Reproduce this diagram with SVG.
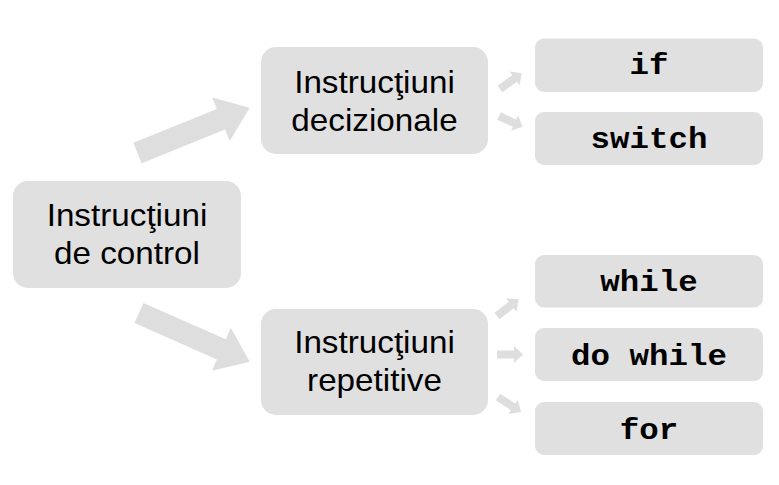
<svg xmlns="http://www.w3.org/2000/svg" width="779" height="485" viewBox="0 0 779 485">
<style>
.box{fill:#E0E0E0}
.arr{fill:#DEDEDE}
.sans{font-family:"Liberation Sans",Arial,sans-serif;font-size:30.5px;fill:#000;text-anchor:middle}
.mono{font-family:"Liberation Mono","Courier New",monospace;font-size:29px;font-weight:bold;fill:#000;text-anchor:middle}
</style>
<defs>
<polygon id="big" points="0,-11 90,-11 90,-23.5 121,0 90,23.5 90,11 0,11"/>
</defs>
<rect width="779" height="485" fill="#FFFFFF"/>
<g id="connectors">
<use href="#big" class="arr" transform="translate(137.5,153) rotate(-22)"/>
<use href="#big" class="arr" transform="translate(139,313) rotate(23.8)"/>
<polygon class="arr" points="0,-4 18,-4 18,-8.5 27,0 18,8.5 18,4 0,4" transform="translate(500,89) rotate(-36)"/>
<polygon class="arr" points="0,-4 17,-4 17,-8.5 26,0 17,8.5 17,4 0,4" transform="translate(499,116) rotate(24.6)"/>
<polygon class="arr" points="0,-4 18,-4 18,-8.5 27.5,0 18,8.5 18,4 0,4" transform="translate(497,316) rotate(-37.7)"/>
<polygon class="arr" points="0,-4 17,-4 17,-8.5 26,0 17,8.5 17,4 0,4" transform="translate(497,354.5)"/>
<polygon class="arr" points="0,-4 18,-4 18,-8.5 27.5,0 18,8.5 18,4 0,4" transform="translate(498,397) rotate(33)"/>
</g>
<g id="control">
<rect class="box" x="13" y="181" width="228" height="107" rx="15"/>
<g transform="translate(127,0) scale(1.09,1)">
<text class="sans" x="0" y="226">Instrucţiuni</text>
<text class="sans" x="0" y="264">de control</text>
</g>
</g>
<g id="decizionale">
<rect class="box" x="261" y="47" width="227" height="107" rx="15"/>
<g transform="translate(374.5,0) scale(1.09,1)">
<text class="sans" x="0" y="93">Instrucţiuni</text>
<text class="sans" x="0" y="131.5">decizionale</text>
</g>
</g>
<g id="repetitive">
<rect class="box" x="261" y="309" width="227" height="106" rx="15"/>
<g transform="translate(374.5,0) scale(1.09,1)">
<text class="sans" x="0" y="353.5">Instrucţiuni</text>
<text class="sans" x="0" y="391.5">repetitive</text>
</g>
</g>
<g id="if">
<rect class="box" x="535" y="38.5" width="228" height="53.5" rx="9"/>
<text class="mono" transform="translate(649,74) scale(1.12,1)" x="0" y="0">if</text>
</g>
<g id="switch">
<rect class="box" x="535" y="112" width="228" height="53" rx="9"/>
<text class="mono" transform="translate(649,147.5) scale(1.12,1)" x="0" y="0">switch</text>
</g>
<g id="while">
<rect class="box" x="535" y="255" width="228" height="52.5" rx="9"/>
<text class="mono" transform="translate(649,290.5) scale(1.12,1)" x="0" y="0">while</text>
</g>
<g id="dowhile">
<rect class="box" x="535" y="328" width="228" height="53" rx="9"/>
<text class="mono" transform="translate(649,365) scale(1.12,1)" x="0" y="0">do while</text>
</g>
<g id="for">
<rect class="box" x="535" y="402" width="228" height="53" rx="9"/>
<text class="mono" transform="translate(649,438.5) scale(1.12,1)" x="0" y="0">for</text>
</g>
</svg>
